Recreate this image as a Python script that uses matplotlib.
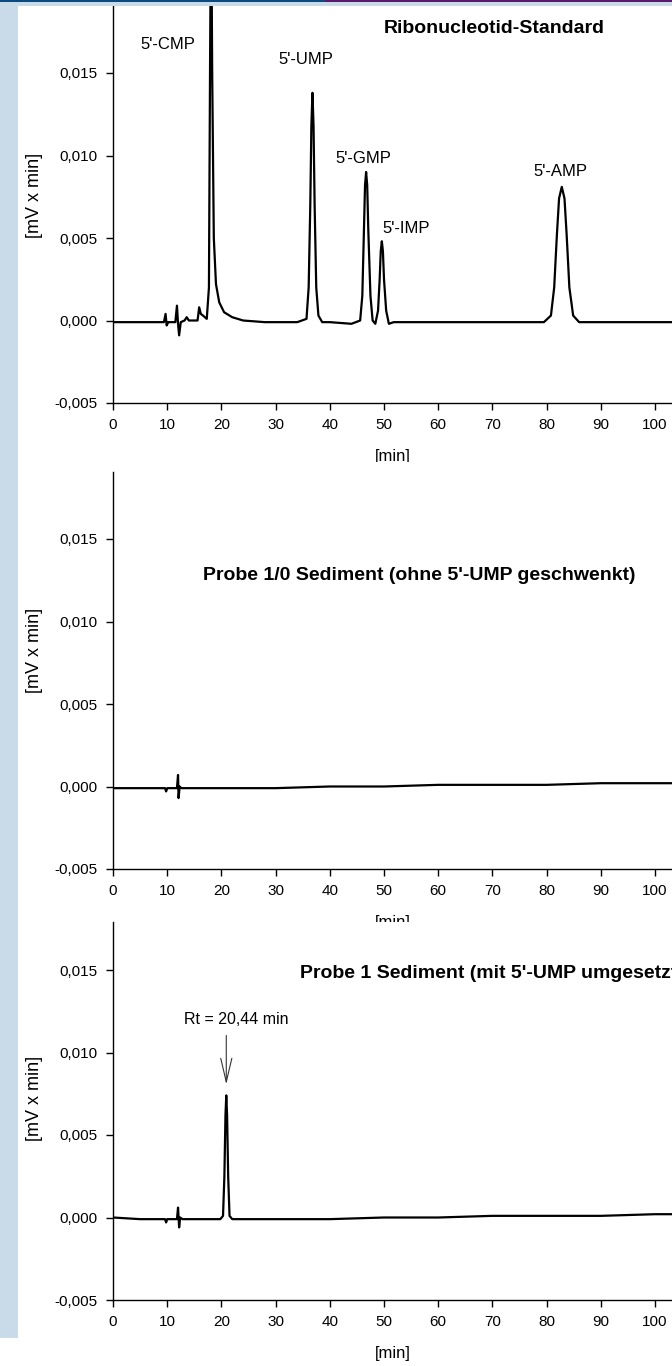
import matplotlib
matplotlib.use("Agg")
import matplotlib.pyplot as plt
from matplotlib.patches import Rectangle
from matplotlib.ticker import FuncFormatter

plt.rcParams['font.family'] = ['Liberation Sans', 'DejaVu Sans']

# --- data (time [min], signal [mV x min]) ---
std_t = [0, 5, 9.4, 9.7, 9.9, 10.2, 11.5, 11.8, 12.0, 12.2, 12.5, 13.2, 13.6, 14.0,
         15.6, 15.9, 16.2, 16.6, 17.3, 17.7, 17.9, 18.1, 18.3, 18.6, 19.0, 19.6, 20.5,
         22, 24, 28, 34, 35.7, 36.1, 36.4, 36.6, 36.8, 37.0, 37.2, 37.5, 37.9, 38.6, 40,
         44, 45.6, 46.0, 46.3, 46.5, 46.7, 46.9, 47.1, 47.5, 47.9, 48.4, 48.9, 49.2, 49.4,
         49.6, 49.8, 50.0, 50.4, 50.9, 51.8, 55, 65, 75, 79.5, 80.8, 81.4, 81.9, 82.3,
         82.8, 83.3, 83.7, 84.2, 84.9, 86, 90, 100, 103.5]
std_v = [-0.0001, -0.0001, -0.0001, 0.0004, -0.0003, -0.0001, -0.0001, 0.0009, -0.0002,
         -0.0009, -0.0001, 0.0000, 0.0002, 0.0000, 0.0000, 0.0008, 0.0004, 0.0003, 0.0001,
         0.0020, 0.0150, 0.0260, 0.0150, 0.0050, 0.0022, 0.0011, 0.0005, 0.0002, 0.0000,
         -0.0001, -0.0001, 0.0001, 0.0020, 0.0070, 0.0118, 0.0138, 0.0118, 0.0070, 0.0020,
         0.0003, -0.0001, -0.0001, -0.0002, 0.0000, 0.0015, 0.0055, 0.0082, 0.0090, 0.0082,
         0.0055, 0.0015, 0.0000, -0.0002, 0.0006, 0.0025, 0.0042, 0.0048, 0.0042, 0.0025,
         0.0006, -0.0002, -0.0001, -0.0001, -0.0001, -0.0001, -0.0001, 0.0003, 0.0020,
         0.0052, 0.0074, 0.0081, 0.0074, 0.0052, 0.0020, 0.0003, -0.0001, -0.0001, -0.0001,
         -0.0001]

blank_t = [0, 5, 9.6, 9.8, 10.0, 11.8, 12.0, 12.1, 12.3, 12.6, 20, 30, 40, 50, 60, 70, 80, 90, 100, 103.5]
blank_v = [-0.0001, -0.0001, -0.0001, -0.0003, -0.0001, -0.0001, 0.0007, -0.0007, 0.0000,
           -0.0001, -0.0001, -0.0001, 0.0000, 0.0000, 0.0001, 0.0001, 0.0001, 0.0002, 0.0002, 0.0002]

probe_t = [0, 5, 9.6, 9.8, 10.0, 11.8, 12.0, 12.2, 12.4, 12.8, 19.8, 20.3, 20.55, 20.75,
           20.9, 21.05, 21.25, 21.5, 22.0, 30, 40, 50, 60, 70, 80, 90, 100, 103.5]
probe_v = [0.0000, -0.0001, -0.0001, -0.0003, -0.0001, -0.0001, 0.0006, -0.0006, 0.0000,
           -0.0001, -0.0001, 0.0001, 0.0025, 0.0062, 0.0074, 0.0062, 0.0025, 0.0001, -0.0001,
           -0.0001, -0.0001, 0.0000, 0.0000, 0.0001, 0.0001, 0.0001, 0.0002, 0.0002]

peak_names = ["5'-CMP", "5'-UMP", "5'-GMP", "5'-IMP", "5'-AMP"]
peak_label_t = [10.2, 35.5, 46.2, 54.0, 82.5]
peak_label_v = [0.0167, 0.0158, 0.0098, 0.0056, 0.0090]

rt_label = 'Rt = 20,44 min'
rt_peak_pos = 20.9
x_ticks = list(range(0, 101, 10))
y_ticks = [-0.005, 0.0, 0.005, 0.010, 0.015]

W, H = 672, 1366
PX = 5.42  # pixels per minute
fig = plt.figure(figsize=(W / 100, H / 100), dpi=100)
fig.patch.set_facecolor('white')

def fx(px): return px / W
def fy(py): return 1 - py / H

def make_panel(top, bottom, z, label_y):
    ax = fig.add_axes([fx(113), fy(bottom), 1 - fx(113), (bottom - top) / H], zorder=z)
    ax.set_xlim(0, (W - 113) / PX)
    ax.set_ylim(-0.005, -0.005 + (bottom - top) / 82.5 * 0.005)
    ax.set_facecolor('none')
    for s in ['top', 'right']:
        ax.spines[s].set_visible(False)
    ax.spines['left'].set_linewidth(1.0)
    ax.spines['bottom'].set_linewidth(1.0)
    ax.set_xticks(x_ticks)
    ax.set_yticks(y_ticks)
    ax.yaxis.set_major_formatter(FuncFormatter(lambda v, p: f"{v:.3f}".replace('.', ',').replace('-0,000', '0,000')))
    ax.tick_params(direction='out', length=5, width=1, labelsize=11, pad=6)
    ax.set_xlabel('[min]', fontsize=12, labelpad=12)
    ax.set_ylabel('[mV x min]', fontsize=13)
    ax.yaxis.set_label_coords(-0.125, (bottom - label_y) / (bottom - top))
    return ax

# white backing sheets so the next panel clips the previous [min] label
fig.add_artist(Rectangle((fx(18), fy(922)), 1, 922 / H - 462 / H, transform=fig.transFigure,
                         facecolor='white', edgecolor='none', zorder=0.5))
fig.add_artist(Rectangle((fx(18), 0), 1, 1 - 922 / H - 0.0001, transform=fig.transFigure,
                         facecolor='white', edgecolor='none', zorder=1.5))

ax1 = make_panel(6, 403, 0, 195)
ax1.plot(std_t, std_v, color='black', lw=1.6)
for name, t, v in zip(peak_names, peak_label_t, peak_label_v):
    ax1.text(t, v, name, ha='center', va='center', fontsize=12)
ax1.text(70.3, 0.0177, 'Ribonucleotid-Standard', ha='center', va='center',
         fontsize=14, fontweight='bold')

ax2 = make_panel(472, 869, 1, 650)
ax2.plot(blank_t, blank_v, color='black', lw=1.6)
ax2.text(56.5, 0.0128, "Probe 1/0 Sediment (ohne 5'-UMP geschwenkt)", ha='center', va='center',
         fontsize=14, fontweight='bold')

ax3 = make_panel(922, 1300, 2, 1098)
ax3.plot(probe_t, probe_v, color='black', lw=1.6)
ax3.text(34.5, 0.0148, "Probe 1 Sediment (mit 5'-UMP umgesetzt)", ha='left', va='center',
         fontsize=14, fontweight='bold', clip_on=False)
ax3.text(22.8, 0.0120, rt_label, ha='center', va='center', fontsize=11.5)
ax3.annotate('', xy=(rt_peak_pos, 0.0079), xytext=(rt_peak_pos, 0.0112),
             arrowprops=dict(arrowstyle='->,head_length=1.7,head_width=0.4', lw=0.8, color='#333333'))

# page decoration: coloured top rule and light blue margin strip
fig.add_artist(Rectangle((0, fy(6)), 1, 6 / H, transform=fig.transFigure,
                         facecolor='#c9dbe8', edgecolor='none', zorder=5))
fig.add_artist(Rectangle((0, fy(2)), fx(325), 2 / H, transform=fig.transFigure,
                         facecolor='#0b4a80', edgecolor='none', zorder=6))
fig.add_artist(Rectangle((fx(325), fy(2)), 1, 2 / H, transform=fig.transFigure,
                         facecolor='#5a1a6c', edgecolor='none', zorder=6))
fig.add_artist(Rectangle((0, fy(1338)), fx(18), 1338 / H, transform=fig.transFigure,
                         facecolor='#c9dbe8', edgecolor='none', zorder=5))

fig.savefig('out.png', dpi=100, facecolor='white')
